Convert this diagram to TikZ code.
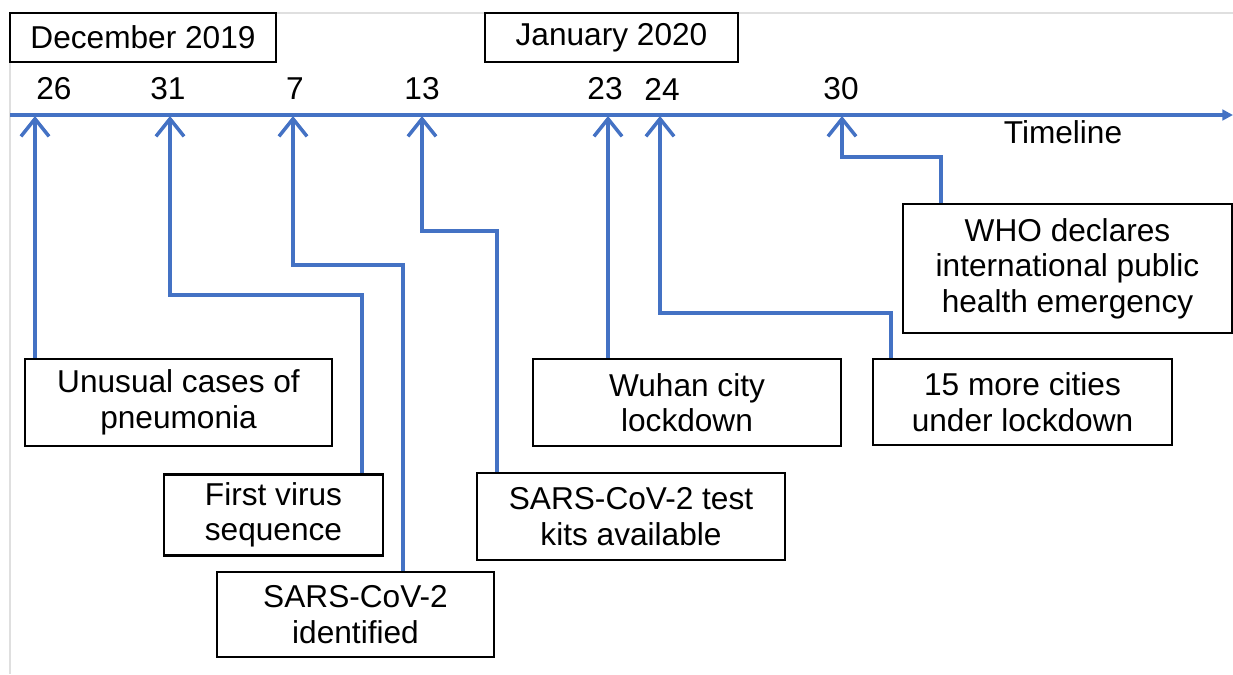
\documentclass[tikz,border=0pt]{standalone}
\usepackage{fontspec}
\setmainfont{Liberation Sans}
\usetikzlibrary{arrows.meta}
\definecolor{lineblue}{RGB}{68,114,196}

\begin{document}
\begin{tikzpicture}[x=0.02cm,y=-0.02cm,
    font=\fontsize{18pt}{20.2pt}\selectfont,
    event/.style={draw=black,line width=1.6pt,fill=white,align=center,inner sep=2pt},
    month/.style={draw=black,line width=1.6pt,fill=white,minimum height=0.98cm},
    conn/.style={draw=lineblue,line width=2pt,-{Straight Barb[length=10pt,width=16pt]}}]
    \useasboundingbox (0,0) rectangle (1233,674);
    \draw[gray!25,line width=1pt] (10,674) -- (10,13) -- (1233,13);

    % months
    \node[month,minimum width=5.32cm] (dec) at (143,37.5) {December 2019};
    \node[month,minimum width=5.06cm] (jan) at (611.5,37.5) {January 2020};

    % timeline
    \coordinate (tl0) at (10,115);
    \coordinate (tl1) at (1233,115);
    \draw[lineblue,line width=2pt,-{Triangle[length=6pt,width=6pt]}] (tl0) -- (tl1);
    \node (timeline) at (1063,132) {Timeline};

    % days
    \node (d26) at (54,89) {26};
    \node (d31) at (168,89) {31};
    \node (d7) at (295,89) {7};
    \node (d13) at (422,89) {13};
    \node (d23) at (605,89) {23};
    \node (d24) at (662,89) {24};
    \node (d30) at (841,89) {30};

    \coordinate (t26) at (35,116);
    \coordinate (t31) at (170,116);
    \coordinate (t7) at (293,116);
    \coordinate (t13) at (422,116);
    \coordinate (t23) at (608,116);
    \coordinate (t24) at (660,116);
    \coordinate (t30) at (842,116);

    % events
    \node[event,minimum width=6.14cm,minimum height=1.74cm] (b26) at (178.5,402.5)
      {Unusual cases of\\pneumonia};
    \node[event,minimum width=4.38cm,minimum height=1.62cm] (b31) at (273.5,515)
      {First virus\\sequence};
    \node[event,minimum width=5.54cm,minimum height=1.70cm] (b7) at (355.5,614.5)
      {SARS-CoV-2\\identified};
    \node[event,minimum width=6.16cm,minimum height=1.74cm] (b13) at (631,516.5)
      {SARS-CoV-2 test\\kits available};
    \node[event,minimum width=6.16cm,minimum height=1.74cm] (b23) at (687,402.5)
      {Wuhan city\\lockdown};
    \node[event,minimum width=5.98cm,minimum height=1.72cm] (b24) at (1022.5,402)
      {15 more cities\\under lockdown};
    \node[event,minimum width=6.58cm,minimum height=2.58cm] (b30) at (1067.5,268.5)
      {WHO declares\\international public\\health emergency};

    % elbows
    \coordinate (e31) at (362,295);
    \coordinate (e7) at (403,265);
    \coordinate (e13) at (497,231);
    \coordinate (e24) at (891,313);
    \coordinate (e30) at (941,157);

    \draw[conn] (t26 |- b26.north) -- (t26);
    \draw[conn] (e31 |- b31.north) -- (e31) -| (t31);
    \draw[conn] (e7 |- b7.north) -- (e7) -| (t7);
    \draw[conn] (e13 |- b13.north) -- (e13) -| (t13);
    \draw[conn] (t23 |- b23.north) -- (t23);
    \draw[conn] (e24 |- b24.north) -- (e24) -| (t24);
    \draw[conn] (e30 |- b30.north) -- (e30) -| (t30);
\end{tikzpicture}
\end{document}
